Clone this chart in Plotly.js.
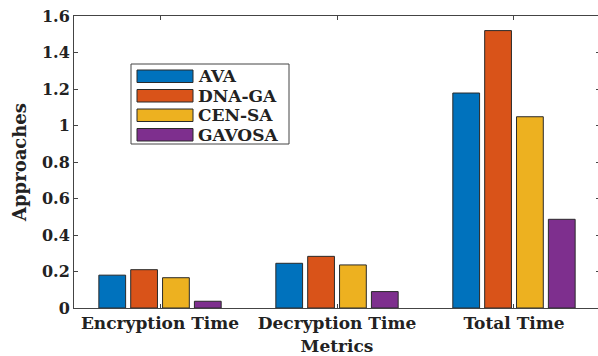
<!DOCTYPE html>
<html>
<head>
<meta charset="utf-8">
<script src="https://cdn.plot.ly/plotly-3.0.1.min.js"></script>
<style>
  html, body { margin: 0; padding: 0; overflow: hidden; background: #fff; }
  #chart { width: 601px; height: 356px; }
</style>
</head>
<body>
<div id="chart"></div>
<script>
// Timing results per metric for each approach
const metrics = ["Encryption Time", "Decryption Time", "Total Time"];
const seriesNames = ["AVA", "DNA-GA", "CEN-SA", "GAVOSA"];
const seriesColors = ["#0072BD", "#D95319", "#EDB120", "#7E2F8E"];
const ava    = [0.18, 0.245, 1.178];
const dnaGa  = [0.21, 0.283, 1.52];
const cenSa  = [0.166, 0.236, 1.048];
const gavosa = [0.037, 0.09, 0.486];
const yTickVals = [0, 0.2, 0.4, 0.6, 0.8, 1, 1.2, 1.4, 1.6];
const yTickText = ["0", "0.2", "0.4", "0.6", "0.8", "1", "1.2", "1.4", "1.6"];

const seriesValues = [ava, dnaGa, cenSa, gavosa];
const FONT = "DejaVu Serif";
const TXT = "#222";

const traces = seriesValues.map((vals, i) => ({
  type: "bar",
  name: seriesNames[i],
  x: metrics,
  y: vals,
  marker: { color: seriesColors[i], line: { color: "#2a2a2a", width: 1 } },
  showlegend: false,
  hoverinfo: "x+y+name"
}));

// Hand-built legend box: swatches and labels in paper coordinates
const legendShapes = [];
const legendNotes = [];
const lg = { x0: 131, y0: 64, x1: 289, y1: 144, rowTop: 70, rowStep: 19.5, swW: 56, swH: 12.5 };
const plotL = 74, plotW = 526, plotT = 16, plotH = 292;
const px = v => (v - plotL) / plotW;
const py = v => 1 - (v - plotT) / plotH;
legendShapes.push({
  type: "rect", xref: "paper", yref: "paper",
  x0: px(lg.x0), x1: px(lg.x1), y0: py(lg.y0), y1: py(lg.y1),
  line: { color: "#444", width: 1 }, fillcolor: "#fff", layer: "above"
});
seriesNames.forEach((name, i) => {
  const top = lg.rowTop + i * lg.rowStep;
  legendShapes.push({
    type: "rect", xref: "paper", yref: "paper",
    x0: px(137), x1: px(137 + lg.swW), y0: py(top), y1: py(top + lg.swH),
    line: { color: "#2a2a2a", width: 1 }, fillcolor: seriesColors[i], layer: "above"
  });
  legendNotes.push({
    xref: "paper", yref: "paper", x: px(196), y: py(top + lg.swH / 2),
    xanchor: "left", yanchor: "middle", showarrow: false, text: name,
    font: { family: FONT, size: 17, color: TXT, weight: "bold" }
  });
});

const layout = {
  width: 601, height: 356,
  margin: { l: plotL, r: 601 - plotL - plotW, t: plotT, b: 356 - plotT - plotH },
  paper_bgcolor: "#fff", plot_bgcolor: "#fff",
  barmode: "group", bargap: 0.28, bargroupgap: 0.16,
  showlegend: false,
  xaxis: {
    type: "category", range: [-0.486, 2.486],
    showline: true, linecolor: "#444", linewidth: 1, mirror: "ticks",
    ticks: "inside", ticklen: 4, tickcolor: "#444",
    tickfont: { family: FONT, size: 17, color: TXT, weight: "bold" },
    title: { text: "Metrics", standoff: 9, font: { family: FONT, size: 17, color: TXT, weight: "bold" } },
    automargin: false, fixedrange: true
  },
  yaxis: {
    range: [0, 1.6], tickvals: yTickVals, ticktext: yTickText,
    showline: true, linecolor: "#444", linewidth: 1, mirror: "ticks",
    ticks: "inside", ticklen: 4, tickcolor: "#444", showgrid: false, zeroline: false,
    tickfont: { family: FONT, size: 16, color: TXT, weight: "bold" },
    title: { text: "Approaches", standoff: 10, font: { family: FONT, size: 18, color: TXT, weight: "bold" } },
    automargin: false, fixedrange: true
  },
  shapes: legendShapes,
  annotations: legendNotes
};

Plotly.newPlot("chart", traces, layout, { displayModeBar: false, staticPlot: true });
</script>
</body>
</html>
